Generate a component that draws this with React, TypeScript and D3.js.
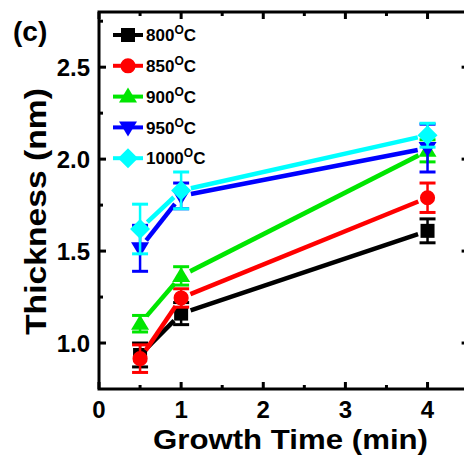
import React from "react";
import * as d3 from "d3";

const growthTimes = [0.5, 1, 4];
const seriesLabels = ["800", "850", "900", "950", "1000"];
const thick800 = [0.935, 1.16, 1.61];
const err800 = [0.065, 0.06, 0.065];
const thick850 = [0.915, 1.245, 1.79];
const err850 = [0.075, 0.05, 0.08];
const thick900 = [1.105, 1.365, 2.045];
const err900 = [0.045, 0.05, 0.06];
const thick950 = [1.515, 1.8, 2.06];
const err950 = [0.125, 0.07, 0.13];
const thick1000 = [1.62, 1.83, 2.13];
const err1000 = [0.135, 0.1, 0.065];
const xTicks = [0, 1, 2, 3, 4];
const yTicks = [1.0, 1.5, 2.0, 2.5];

const colors = ["#000000", "#ff0000", "#00e600", "#0000ff", "#00ffff"];
const shapes = ["square", "circle", "triangle", "triangleDown", "diamond"];

function markerPath(shape: string): string {
  switch (shape) {
    case "square":
      return "M-7,-7H7V7H-7Z";
    case "circle":
      return d3.symbol(d3.symbolCircle, 180)() as string;
    case "triangle":
      return "M0,-9L9,6H-9Z";
    case "triangleDown":
      return "M0,9L9,-6H-9Z";
    case "diamond":
      return "M0,-10L10,0L0,10L-10,0Z";
  }
  return "";
}

export default function App() {
  const W = 464, H = 459;
  const left = 99, right = 468.6, top = 12, bottom = 389;
  const x = d3.scaleLinear().domain([0, 4.5]).range([left, right]);
  const y = d3.scaleLinear().domain([0.75, 2.8]).range([bottom, top]);
  const data = [thick800, thick850, thick900, thick950, thick1000];
  const errs = [err800, err850, err900, err950, err1000];
  const font = "'Liberation Sans', Arial, sans-serif";

  const xMajor = d3.range(0, 4.01, 1);
  const xMinor = d3.range(0.5, 4.5, 1);
  const yMajor = d3.range(1.0, 2.76, 0.5);
  const yMinorTicks = [1.25, 1.75, 2.25, 2.75];

  const gap = 10;
  const segments = (vals: number[]) => {
    const out: string[] = [];
    for (let i = 0; i < vals.length - 1; i++) {
      const x1 = x(growthTimes[i]), y1 = y(vals[i]);
      const x2 = x(growthTimes[i + 1]), y2 = y(vals[i + 1]);
      const dx = x2 - x1, dy = y2 - y1;
      const len = Math.hypot(dx, dy);
      const ux = dx / len, uy = dy / len;
      out.push(`M${x1 + ux * gap},${y1 + uy * gap}L${x2 - ux * gap},${y2 - uy * gap}`);
    }
    return out;
  };

  const legendY = (i: number) => 35 + i * 30.8;

  return (
    <svg width={W} height={H} style={{ position: "absolute", left: 0, top: 0, background: "#fff" }}>
      <rect x={0} y={0} width={W} height={H} fill="#fff" />
      <rect x={left} y={top} width={right - left} height={bottom - top} fill="none" stroke="#000" strokeWidth={3} />
      {xMajor.map((t) => (
        <g key={"xm" + t}>
          <line x1={x(t)} x2={x(t)} y1={bottom} y2={bottom - 7} stroke="#000" strokeWidth={3} />
          <line x1={x(t)} x2={x(t)} y1={top} y2={top + 7} stroke="#000" strokeWidth={3} />
        </g>
      ))}
      {xMinor.map((t) => (
        <g key={"xn" + t}>
          <line x1={x(t)} x2={x(t)} y1={bottom} y2={bottom - 4} stroke="#000" strokeWidth={3} />
          <line x1={x(t)} x2={x(t)} y1={top} y2={top + 4} stroke="#000" strokeWidth={3} />
        </g>
      ))}
      {yMajor.map((t) => (
        <g key={"ym" + t}>
          <line x1={left} x2={left + 7} y1={y(t)} y2={y(t)} stroke="#000" strokeWidth={3} />
          <line x1={right} x2={right - 7} y1={y(t)} y2={y(t)} stroke="#000" strokeWidth={3} />
        </g>
      ))}
      {yMinorTicks.map((t) => (
        <g key={"yn" + t}>
          <line x1={left} x2={left + 4} y1={y(t)} y2={y(t)} stroke="#000" strokeWidth={3} />
          <line x1={right} x2={right - 4} y1={y(t)} y2={y(t)} stroke="#000" strokeWidth={3} />
        </g>
      ))}
      {xTicks.map((t) => (
        <text key={"xl" + t} x={x(t)} y={418} textAnchor="middle" fontFamily={font} fontWeight="bold" fontSize={24}>
          {t}
        </text>
      ))}
      {yTicks.map((t) => (
        <text key={"yl" + t} x={90} y={y(t)} dy="0.36em" textAnchor="end" fontFamily={font} fontWeight="bold" fontSize={24}>
          {t.toFixed(1)}
        </text>
      ))}
      <text x={153} y={449} textLength={275} lengthAdjust="spacingAndGlyphs" fontFamily={font} fontWeight="bold" fontSize={28}>
        Growth Time (min)
      </text>
      <text transform={`translate(46,335) rotate(-90)`} textLength={247} lengthAdjust="spacingAndGlyphs" fontFamily={font} fontWeight="bold" fontSize={30}>
        Thickness (nm)
      </text>
      <text x={13} y={41} fontFamily={font} fontWeight="bold" fontSize={28}>
        (c)
      </text>
      {data.map((vals, si) => (
        <g key={"s" + si}>
          {segments(vals).map((d, k) => (
            <path key={k} d={d} stroke={colors[si]} strokeWidth={4.5} fill="none" />
          ))}
          {vals.map((v, k) => {
            const cx = x(growthTimes[k]);
            const e = errs[si][k];
            return (
              <g key={k}>
                <line x1={cx} x2={cx} y1={y(v - e)} y2={y(v + e)} stroke={colors[si]} strokeWidth={2.5} />
                <line x1={cx - 8} x2={cx + 8} y1={y(v - e)} y2={y(v - e)} stroke={colors[si]} strokeWidth={3} />
                <line x1={cx - 8} x2={cx + 8} y1={y(v + e)} y2={y(v + e)} stroke={colors[si]} strokeWidth={3} />
                <path d={markerPath(shapes[si])} transform={`translate(${cx},${y(v)})`} fill={colors[si]} />
              </g>
            );
          })}
        </g>
      ))}
      {seriesLabels.map((lab, i) => (
        <g key={"lg" + i}>
          <line x1={113} x2={143} y1={legendY(i)} y2={legendY(i)} stroke={colors[i]} strokeWidth={4} />
          <path d={markerPath(shapes[i])} transform={`translate(128,${legendY(i)})`} fill={colors[i]} />
          <text x={146} y={legendY(i)} dy="0.36em" fontFamily={font} fontWeight="bold" fontSize={17}>
            {lab}
            <tspan dy="-7" fontSize={12}>O</tspan>
            <tspan dy="7">C</tspan>
          </text>
        </g>
      ))}
    </svg>
  );
}
